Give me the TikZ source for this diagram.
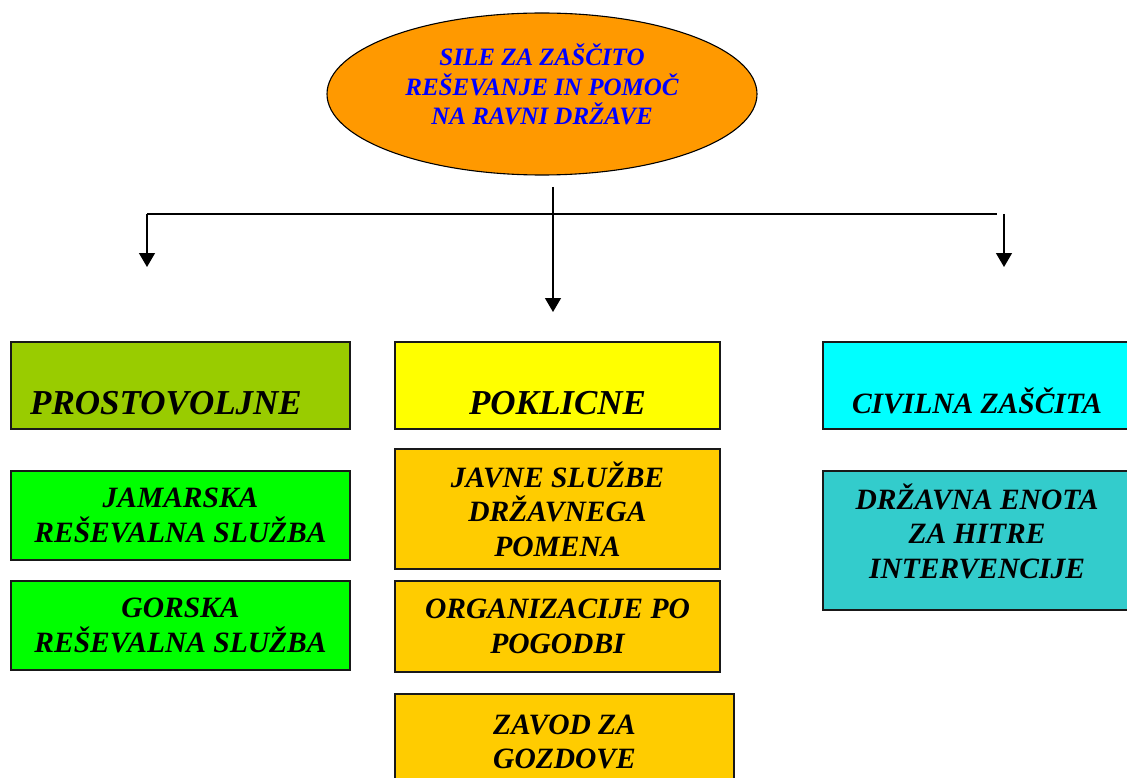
\documentclass[tikz,border=0pt]{standalone}
\usepackage{fontspec}
\setmainfont{Liberation Serif}
\usetikzlibrary{arrows.meta,shapes.geometric}
\definecolor{cEll}{HTML}{FF9900}
\definecolor{cBlue}{HTML}{0000FF}
\definecolor{cOlive}{HTML}{99CC00}
\definecolor{cYellow}{HTML}{FFFF00}
\definecolor{cCyan}{HTML}{00FFFF}
\definecolor{cGreen}{HTML}{00FF00}
\definecolor{cGold}{HTML}{FFCC00}
\definecolor{cTeal}{HTML}{33CCCC}
\tikzset{
  box/.style={draw=black!90, line width=1.2pt, rectangle, inner sep=0pt, align=center,
    font=\fontsize{29.5}{34.5}\selectfont\bfseries\itshape},
  headbox/.style={box, text height=57pt, text depth=0pt},
  conn/.style={line width=1.3pt, draw=black},
  arr/.style={conn, -{Triangle[width=16pt,length=14pt]}},
}
\begin{document}
\begin{tikzpicture}[x=1pt,y=-1pt]
\useasboundingbox (0,0) rectangle (1127,778);
\clip (0,0) rectangle (1127,778);
\fill[white] (0,0) rectangle (1127,778);

\node[ellipse, draw=black, line width=1.1pt, fill=cEll, minimum width=430pt, minimum height=162pt,
      inner sep=0pt, align=center, text=cBlue, text height=68pt, text depth=6pt,
      font=\fontsize{25}{29.5}\selectfont\bfseries\itshape] (top) at (542,94)
  {SILE ZA ZAŠČITO\\REŠEVANJE IN POMOČ\\NA RAVNI DRŽAVE};

\coordinate (mtop) at (553,187);
\coordinate (mend) at (553,312);
\coordinate (hl) at (147,214);
\coordinate (hr) at (997,214);
\coordinate (lend) at (147,267);
\coordinate (rtop) at (1004,214);
\coordinate (rend) at (1004,267);

\draw[conn] (hl) -- (hr);
\draw[arr] (mtop) -- (mend);
\draw[arr] (hl) -- (lend);
\draw[arr] (rtop) -- (rend);

\node[headbox, fill=cOlive, minimum width=339pt, minimum height=87pt,
      font=\fontsize{35}{40}\selectfont\bfseries\itshape] (prost) at (180.5,385.5)
  {\hspace*{-29pt}PROSTOVOLJNE};
\node[headbox, fill=cYellow, minimum width=325pt, minimum height=87pt,
      font=\fontsize{35}{40}\selectfont\bfseries\itshape] (poklic) at (557.5,385.5)
  {POKLICNE};
\node[headbox, fill=cCyan, minimum width=308pt, minimum height=87pt, text height=56pt] (civil) at (977,385.5)
  {CIVILNA ZAŠČITA};

\node[box, fill=cGreen, minimum width=339pt, minimum height=89pt] (jam) at (180.5,515.5)
  {JAMARSKA\\REŠEVALNA SLUŽBA};
\node[box, fill=cGreen, minimum width=339pt, minimum height=89pt] (gor) at (180.5,625.5)
  {GORSKA\\REŠEVALNA SLUŽBA};

\node[box, fill=cGold, minimum width=325pt, minimum height=120pt] (javne) at (557.5,509)
  {JAVNE SLUŽBE\\DRŽAVNEGA\\POMENA};
\node[box, fill=cGold, minimum width=325pt, minimum height=91pt] (org) at (557.5,626.5)
  {ORGANIZACIJE PO\\POGODBI};
\node[box, fill=cGold, minimum width=339pt, minimum height=96pt] (zavod) at (564.5,742)
  {ZAVOD ZA\\GOZDOVE};

\node[box, fill=cTeal, minimum width=308pt, minimum height=139pt, text height=82pt, text depth=7pt] (drz) at (977,540.5)
  {DRŽAVNA ENOTA\\ZA HITRE\\INTERVENCIJE};
\end{tikzpicture}
\end{document}
